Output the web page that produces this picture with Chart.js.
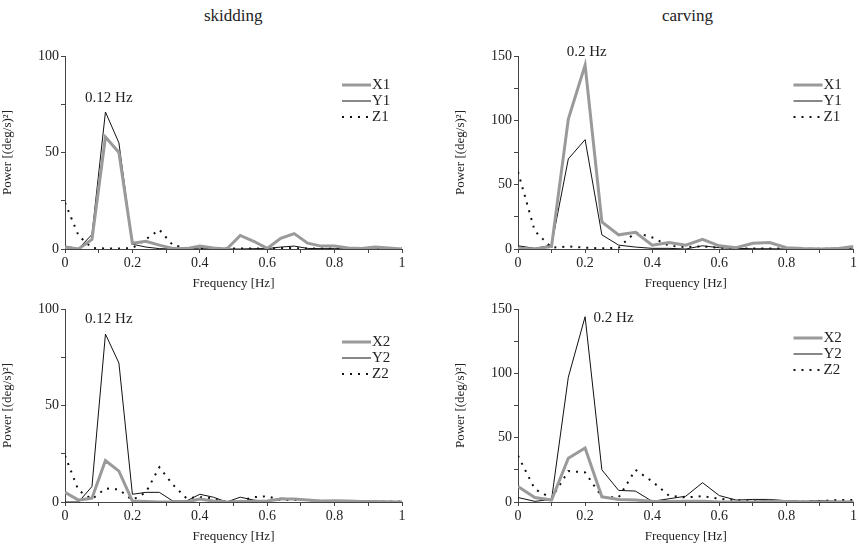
<!DOCTYPE html>
<html lang="en">
<head>
  <meta charset="UTF-8">
  <title>Power spectra: skidding vs carving</title>
  <script src="https://cdn.jsdelivr.net/npm/chart.js"></script>
  <style>
    body { margin: 0; background: #fff; }
    #wrap { position: relative; width: 859px; height: 547px; overflow: hidden; }
    .title { position: absolute; top: 6px; font: 17px "Liberation Serif", serif; color: #222; }
    canvas { position: absolute; }
  </style>
</head>
<body>
  <div id="wrap">
    <div class="title" style="left: 204px;">skidding</div>
    <div class="title" style="left: 662px;">carving</div>
    <canvas id="c1" width="430" height="265" style="left: 0; top: 30px;"></canvas>
    <canvas id="c2" width="406" height="265" style="left: 453px; top: 30px;"></canvas>
    <canvas id="c3" width="430" height="264" style="left: 0; top: 283px;"></canvas>
    <canvas id="c4" width="406" height="264" style="left: 453px; top: 283px;"></canvas>
  </div>

  <script>
    // frequency bins (skidding runs 0.04 Hz apart, carving 0.05 Hz apart)
    const freqSkid = [0, 0.04, 0.08, 0.12, 0.16, 0.2, 0.24, 0.28, 0.32, 0.36, 0.4, 0.44, 0.48, 0.52, 0.56, 0.6, 0.64, 0.68, 0.72, 0.76, 0.8, 0.84, 0.88, 0.92, 0.96, 1];
    const freqCarv = [0, 0.05, 0.1, 0.15, 0.2, 0.25, 0.3, 0.35, 0.4, 0.45, 0.5, 0.55, 0.6, 0.65, 0.7, 0.75, 0.8, 0.85, 0.9, 0.95, 1];

    // skidding, sensor 1
    const skidX1 = [1, 0, 5, 58, 50, 3, 4, 2, 0.3, 0.2, 1.5, 0.5, 0, 7, 4, 0.3, 5.5, 8, 3, 1.5, 1.5, 0.5, 0.3, 1, 0.5, 0];
    const skidY1 = [1.5, 0.2, 7.5, 71, 55, 2.5, 1, 0.2, 0, 0, 0.5, 0.2, 0, 0, 0.2, 0.2, 1, 1.5, 0.3, 0.2, 0.2, 0, 0, 0, 0, 0];
    const skidZ1 = [24, 7, 0.5, 0.3, 0.3, 0.5, 5, 10, 2, 0.5, 0.5, 0.3, 0.2, 0.3, 0.3, 0.2, 0.5, 0.5, 0.2, 0.2, 0.2, 0.2, 0.2, 0.2, 0.2, 0.2];

    // carving, sensor 1
    const carvX1 = [0.5, 0, 2, 101, 143, 21, 11, 13, 3, 5, 3, 7.5, 2.5, 1, 4.5, 5, 1, 0.3, 0, 0.3, 2];
    const carvY1 = [2.5, 0.5, 3, 70, 85, 11, 3, 1.5, 0.5, 0.5, 0, 2.5, 1, 0.5, 0.2, 0.2, 0, 0, 0, 0, 0];
    const carvZ1 = [60, 14, 1, 2, 1, 0.5, 1, 13, 9, 2.5, 1.5, 2, 1, 0.5, 0.3, 0.3, 0.3, 0.2, 0.2, 0.2, 0.2];

    // skidding, sensor 2
    const skidX2 = [5, 1, 2, 21.5, 16, 0.5, 0.3, 0, 0, 0, 1.5, 0.5, 0, 0.3, 0.3, 0.5, 1.5, 1.5, 1, 0.5, 0.7, 0.5, 0.2, 0.2, 0.1, 0];
    const skidY2 = [0, 0, 8, 87, 72, 4, 5, 5, 0.5, 0.5, 4, 2.5, 0, 2.5, 1, 0.3, 2, 1.5, 1, 0.5, 0.5, 0.5, 0.2, 0.2, 0.2, 0];
    const skidZ2 = [24, 6, 1.5, 7, 6.5, 1, 5, 18, 9, 2, 2.5, 2, 0, 0.5, 2.5, 3, 1, 1, 1, 0.5, 0.5, 0.3, 0.3, 0.3, 0.3, 0.3];

    // carving, sensor 2
    const carvX2 = [12, 3.5, 1.5, 34, 42, 4, 2, 1.5, 0.5, 0.3, 0.5, 0.5, 0, 0, 0, 0.5, 0.3, 0, 0, 0, 0];
    const carvY2 = [3.5, 0.5, 2, 97, 144, 25, 9, 8.5, 0.5, 2.5, 4.5, 15, 5, 1.5, 2, 2, 1, 0.5, 1, 0.5, 0.5];
    const carvZ2 = [36, 10, 3, 24, 23, 4, 3.5, 25, 16, 5, 3.5, 4.5, 2.5, 1.5, 0.5, 1, 0.5, 0.3, 0.8, 1.5, 1.5];

    const xTickLabels = ['0', '0.2', '0.4', '0.6', '0.8', '1'];
    const yTickLabels = ['0', '50', '100', '150'];

    const serif = '"Liberation Serif", "Times New Roman", serif';
    const axisColor = '#444';
    Chart.defaults.font.family = serif;
    Chart.defaults.color = '#222';
    Chart.defaults.animation = false;

    // legend and peak label drawn inside the plot area, like the original figure
    const panelExtras = {
      id: 'panelExtras',
      afterDatasetsDraw(chart, args, opts) {
        const ctx = chart.ctx;
        const area = chart.chartArea;
        ctx.save();
        ctx.font = '15px ' + serif;
        ctx.fillStyle = '#222';
        ctx.textBaseline = 'middle';

        chart.data.datasets.forEach((ds, i) => {
          const y = area.top + opts.legendTop + i * 16;
          const x0 = area.right - 60;
          ctx.beginPath();
          ctx.strokeStyle = ds.borderColor;
          ctx.lineWidth = ds.borderWidth;
          ctx.setLineDash(ds.borderDash || []);
          ctx.moveTo(x0, y);
          ctx.lineTo(x0 + 29, y);
          ctx.stroke();
          ctx.setLineDash([]);
          ctx.textAlign = 'left';
          ctx.fillText(ds.label, x0 + 30, y);
        });

        const sx = chart.scales.x.getPixelForValue(opts.note.x);
        const sy = chart.scales.y.getPixelForValue(opts.note.y);
        ctx.textAlign = 'center';
        ctx.font = '15px ' + serif;
        ctx.fillText(opts.note.text, sx, sy);
        ctx.restore();
      }
    };

    function makePanel(id, freq, xs, ys, zs, yMax, names, note, legendTop, padBottom) {
      const pts = vals => freq.map((f, i) => ({ x: f, y: vals[i] }));
      new Chart(document.getElementById(id), {
        type: 'line',
        data: {
          datasets: [
            { label: names[0], data: pts(xs), borderColor: '#9a9a9a', borderWidth: 3 },
            { label: names[1], data: pts(ys), borderColor: '#111', borderWidth: 1 },
            { label: names[2], data: pts(zs), borderColor: '#111', borderWidth: 2, borderDash: [2, 6] }
          ]
        },
        options: {
          responsive: false,
          layout: { padding: { top: 26, right: id === 'c2' || id === 'c4' ? 4 : 28, bottom: padBottom, left: 0 } },
          elements: { point: { radius: 0 }, line: { tension: 0, borderCapStyle: 'butt' } },
          plugins: {
            legend: { display: false },
            tooltip: { enabled: false },
            panelExtras: { note: note, legendTop: legendTop }
          },
          scales: {
            x: {
              type: 'linear',
              min: 0,
              max: 1,
              afterFit: s => { s.height = 42; },
              border: { color: axisColor, width: 1 },
              grid: { drawOnChartArea: false, color: axisColor, tickLength: 4 },
              ticks: {
                stepSize: 0.1,
                autoSkip: false,
                maxRotation: 0,
                padding: 2,
                font: { size: 14 },
                callback: v => {
                  const k = Math.round(v * 10);
                  return k % 2 === 0 ? xTickLabels[k / 2] : '';
                }
              },
              title: { display: true, text: 'Frequency [Hz]', font: { size: 13 }, padding: 0 }
            },
            y: {
              min: 0,
              max: yMax,
              afterFit: s => { s.width = 65; },
              border: { color: axisColor, width: 1 },
              grid: { drawOnChartArea: false, color: axisColor, tickLength: 4 },
              ticks: {
                stepSize: 25,
                autoSkip: false,
                padding: 2,
                font: { size: 14 },
                callback: v => (v % 50 === 0 ? yTickLabels[v / 50] : '')
              },
              title: { display: true, text: 'Power [(deg/s)²]', font: { size: 13 }, padding: 0 }
            }
          }
        },
        plugins: [panelExtras]
      });
    }

    makePanel('c1', freqSkid, skidX1, skidY1, skidZ1, 100, ['X1', 'Y1', 'Z1'], { x: 0.13, y: 78, text: '0.12 Hz' }, 29, 4);
    makePanel('c2', freqCarv, carvX1, carvY1, carvZ1, 150, ['X1', 'Y1', 'Z1'], { x: 0.205, y: 153, text: '0.2 Hz' }, 29, 4);
    makePanel('c3', freqSkid, skidX2, skidY2, skidZ2, 100, ['X2', 'Y2', 'Z2'], { x: 0.13, y: 95, text: '0.12 Hz' }, 33, 3);
    makePanel('c4', freqCarv, carvX2, carvY2, carvZ2, 150, ['X2', 'Y2', 'Z2'], { x: 0.285, y: 143, text: '0.2 Hz' }, 29, 3);
  </script>
</body>
</html>
